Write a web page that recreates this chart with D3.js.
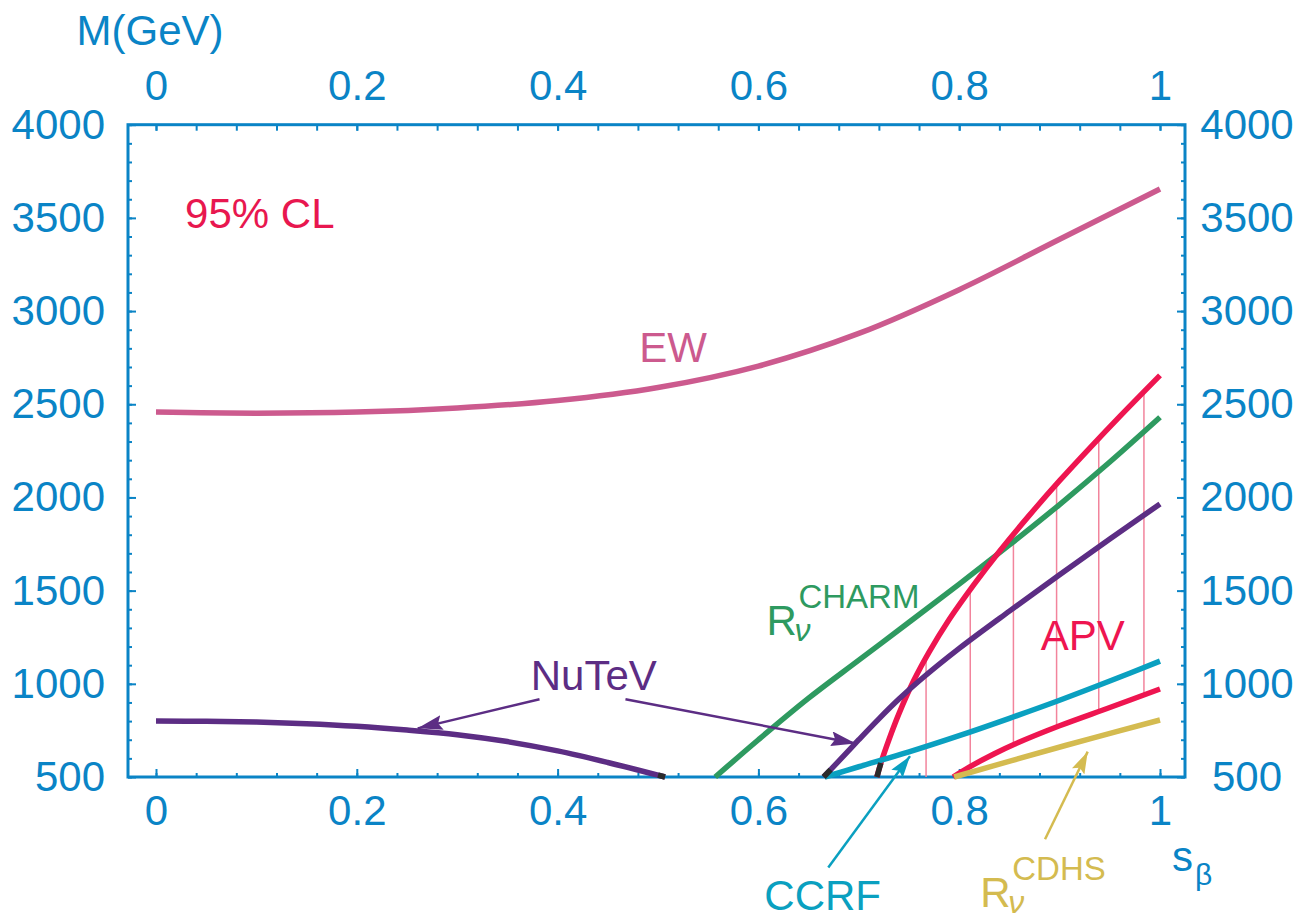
<!DOCTYPE html>
<html>
<head>
<meta charset="utf-8">
<script src="https://cdn.jsdelivr.net/npm/d3@7"></script>
<style>
  body { margin: 0; background: #fff; }
  text { font-family: "Liberation Sans", Arial, sans-serif; }
</style>
</head>
<body>
<svg id="chart" width="1314" height="921"></svg>
<script>
// valores (s_beta, M en GeV)
const sTicks = [0, 0.2, 0.4, 0.6, 0.8, 1];
const mTicks = [500, 1000, 1500, 2000, 2500, 3000, 3500, 4000];

const ewS = [0, 0.1, 0.2, 0.3, 0.4, 0.5, 0.6, 0.7, 0.8, 0.9, 1.0];
const ewM = [2458, 2452, 2458, 2480, 2520, 2590, 2705, 2880, 3115, 3385, 3655];

const nutevLS = [0, 0.05, 0.1, 0.15, 0.2, 0.25, 0.3, 0.35, 0.4, 0.45, 0.5, 0.507];
const nutevLM = [800, 799, 795, 786, 772, 752, 727, 690, 640, 578, 510, 500];

const nutevRS = [0.665, 0.672, 0.68, 0.7, 0.72, 0.74, 0.76, 0.8, 0.85, 0.9, 0.95, 1.0];
const nutevRM = [500, 540, 585, 700, 812, 918, 1015, 1190, 1390, 1585, 1777, 1965];

const charmS = [0.557, 0.6, 0.65, 0.7, 0.75, 0.8, 0.85, 0.9, 0.95, 1.0];
const charmM = [500, 700, 923, 1127, 1330, 1535, 1745, 1962, 2190, 2430];

const apvUpS = [0.718, 0.722, 0.73, 0.74, 0.755, 0.77, 0.79, 0.815, 0.84, 0.87, 0.9, 0.93, 0.96, 1.0];
const apvUpM = [500, 575, 700, 840, 1020, 1170, 1345, 1535, 1710, 1905, 2090, 2265, 2435, 2655];

const apvLoS = [0.794, 0.81, 0.835, 0.855, 0.9, 0.95, 1.0];
const apvLoM = [500, 553, 625, 676, 775, 873, 972];

const ccrfS = [0.666, 0.7, 0.75, 0.8, 0.85, 0.9, 0.95, 1.0];
const ccrfM = [500, 555, 635, 722, 815, 912, 1015, 1122];

const cdhsS = [0.795, 0.86, 0.93, 1.0];
const cdhsM = [500, 600, 705, 806];

// lineas verticales del area APV
const hatchS = [0.767, 0.811, 0.854, 0.897, 0.939, 0.984];

const azul = "#0a84c6";
const colores = {
  ew: "#cc5a8e", nutev: "#5c2d84", charm: "#2e9a60", apv: "#ee1550",
  ccrf: "#0aa0c0", cdhs: "#d4bb50", cl: "#e8174f"
};

const svg = d3.select("#chart");
const x = d3.scaleLinear().domain([0, 1]).range([156, 1160]);
const y = d3.scaleLinear().domain([500, 4000]).range([777, 124.7]);
const bordeIzq = 128, bordeDer = 1185, bordeSup = y(4000), bordeInf = y(500);

const zip = (a, b) => a.map((v, i) => [v, b[i]]);

// ejes
const minorS = d3.range(0, 1.0001, 0.04);
const minorM = d3.range(500, 4001, 100);

function estilo(g) {
  g.select(".domain").remove();
  g.attr("color", azul).attr("font-size", 42)
   .attr("font-family", '"Liberation Sans", Arial, sans-serif');
  g.selectAll("line").attr("stroke-width", 2);
}

svg.append("g").attr("transform", `translate(0,${bordeInf})`)
  .call(d3.axisBottom(x).tickValues(minorS).tickSize(-4).tickFormat("")).call(estilo);
svg.append("g").attr("transform", `translate(0,${bordeInf})`)
  .call(d3.axisBottom(x).tickValues(sTicks).tickSize(-8).tickPadding(18).tickFormat(d => String(d))).call(estilo);

svg.append("g").attr("transform", `translate(0,${bordeSup})`)
  .call(d3.axisTop(x).tickValues(minorS).tickSize(-6).tickFormat("")).call(estilo);
svg.append("g").attr("transform", `translate(0,${bordeSup})`)
  .call(d3.axisTop(x).tickValues(sTicks).tickSize(-6).tickPadding(25).tickFormat(d => String(d))).call(estilo);

svg.append("g").attr("transform", `translate(${bordeIzq},0)`)
  .call(d3.axisLeft(y).tickValues(minorM).tickSize(-4).tickFormat("")).call(estilo);
svg.append("g").attr("transform", `translate(${bordeIzq},0)`)
  .call(d3.axisLeft(y).tickValues(mTicks).tickSize(-8).tickPadding(23).tickFormat(d => String(d))).call(estilo);

svg.append("g").attr("transform", `translate(${bordeDer},0)`)
  .call(d3.axisRight(y).tickValues(minorM).tickSize(-4).tickFormat("")).call(estilo);
const ejeDer = svg.append("g").attr("transform", `translate(${bordeDer},0)`)
  .call(d3.axisRight(y).tickValues(mTicks).tickSize(-8).tickPadding(62).tickFormat(d => String(d))).call(estilo);
ejeDer.selectAll("text").attr("text-anchor", "middle");

svg.append("rect")
  .attr("x", bordeIzq).attr("y", bordeSup).attr("width", bordeDer - bordeIzq).attr("height", bordeInf - bordeSup)
  .attr("fill", "none").attr("stroke", azul).attr("stroke-width", 3);

// lineas verticales APV
const apvUp = d3.scaleLinear().domain(apvUpS).range(apvUpM);
const apvLo = d3.scaleLinear().domain(apvLoS).range(apvLoM);
svg.append("g").selectAll("line").data(hatchS).join("line")
  .attr("x1", d => x(d)).attr("x2", d => x(d))
  .attr("y1", d => y(d < apvLoS[0] ? 500 : apvLo(d)))
  .attr("y2", d => y(apvUp(d)))
  .attr("stroke", "#f2849c").attr("stroke-width", 1.5);

// curvas
const linea = d3.line().x(d => x(d[0])).y(d => y(d[1])).curve(d3.curveCatmullRom.alpha(0.5));
const curvas = [
  { pts: zip(ewS, ewM), color: colores.ew },
  { pts: zip(charmS, charmM), color: colores.charm },
  { pts: zip(apvUpS, apvUpM), color: colores.apv, cola: "ini" },
  { pts: zip(apvLoS, apvLoM), color: colores.apv },
  { pts: zip(nutevLS, nutevLM), color: colores.nutev, cola: "fin" },
  { pts: zip(nutevRS, nutevRM), color: colores.nutev, cola: "ini" },
  { pts: zip(ccrfS, ccrfM), color: colores.ccrf },
  { pts: zip(cdhsS, cdhsM), color: colores.cdhs }
];
svg.append("g").selectAll("path").data(curvas).join("path")
  .attr("d", d => linea(d.pts))
  .attr("fill", "none").attr("stroke", d => d.color).attr("stroke-width", 5.5);

// tramos oscuros en los extremos
svg.append("g").selectAll("path").data(curvas.filter(d => d.cola)).join("path")
  .attr("d", d => d3.line().x(p => x(p[0])).y(p => y(p[1]))(d.cola === "ini" ? d.pts.slice(0, 2) : d.pts.slice(-2)))
  .attr("fill", "none").attr("stroke", "#2b2b2b").attr("stroke-width", 5.5);

// flechas
const defs = svg.append("defs");
[["nutev", 25, 15], ["ccrf", 22, 14], ["cdhs", 22, 14]].forEach(([k, l, w]) => {
  defs.append("marker").attr("id", "fl-" + k)
    .attr("markerUnits", "userSpaceOnUse").attr("markerWidth", l).attr("markerHeight", w)
    .attr("refX", l).attr("refY", w / 2).attr("orient", "auto")
    .append("path").attr("d", `M0,0L${l},${w / 2}L0,${w}L4,${w / 2}Z`).attr("fill", colores[k]);
});
const flechas = [
  { k: "nutev", from: [0.382, 917], to: [0.2606, 761], w: 2.5 },
  { k: "nutev", from: [0.4676, 917], to: [0.697, 680], w: 2.5 },
  { k: "ccrf", from: [0.6696, 15], to: [0.751, 612], w: 2.5 },
  { k: "cdhs", from: [0.8855, 166], to: [0.928, 636], w: 2.5 }
];
svg.append("g").selectAll("line").data(flechas).join("line")
  .attr("x1", d => x(d.from[0])).attr("y1", d => y(d.from[1]))
  .attr("x2", d => x(d.to[0])).attr("y2", d => y(d.to[1]))
  .attr("stroke", d => colores[d.k]).attr("stroke-width", d => d.w)
  .attr("marker-end", d => `url(#fl-${d.k})`);

// etiquetas
const etiquetas = [
  { t: "95% CL", s: 0.029, m: 3447, c: colores.cl, a: "start" },
  { t: "EW", s: 0.515, m: 2728, c: colores.ew, a: "middle" },
  { t: "NuTeV", s: 0.436, m: 967, c: colores.nutev, a: "middle" },
  { t: "APV", s: 0.923, m: 1182, c: colores.apv, a: "middle" },
  { t: "CCRF", s: 0.664, m: -214, c: colores.ccrf, a: "middle" }
];
svg.append("g").selectAll("text").data(etiquetas).join("text")
  .attr("x", d => x(d.s)).attr("y", d => y(d.m))
  .attr("text-anchor", d => d.a).attr("font-size", 42).attr("fill", d => d.c)
  .text(d => d.t);

// R_nu con superindice
function rNu(s, m, sup, color) {
  const g = svg.append("g").attr("fill", color)
    .attr("transform", `translate(${x(s)},${y(m)})`);
  g.append("text").attr("font-size", 42).text("R");
  g.append("text").attr("x", 28).attr("y", 6).attr("font-size", 32)
    .attr("font-family", '"DejaVu Serif", serif').attr("font-style", "italic").text("ν");
  g.append("text").attr("x", 32).attr("y", -27).attr("font-size", 33).text(sup);
}
rNu(0.608, 1262, "CHARM", colores.charm);
rNu(0.821, -198, "CDHS", colores.cdhs);

// titulos de ejes
svg.append("text").attr("x", 150).attr("y", 45).attr("text-anchor", "middle")
  .attr("font-size", 42).attr("fill", azul).text("M(GeV)");
const sb = svg.append("g").attr("fill", azul).attr("transform", "translate(1172,871)");
sb.append("text").attr("font-size", 42).text("s");
sb.append("text").attr("x", 23).attr("y", 14).attr("font-size", 30).text("β");
</script>
</body>
</html>
